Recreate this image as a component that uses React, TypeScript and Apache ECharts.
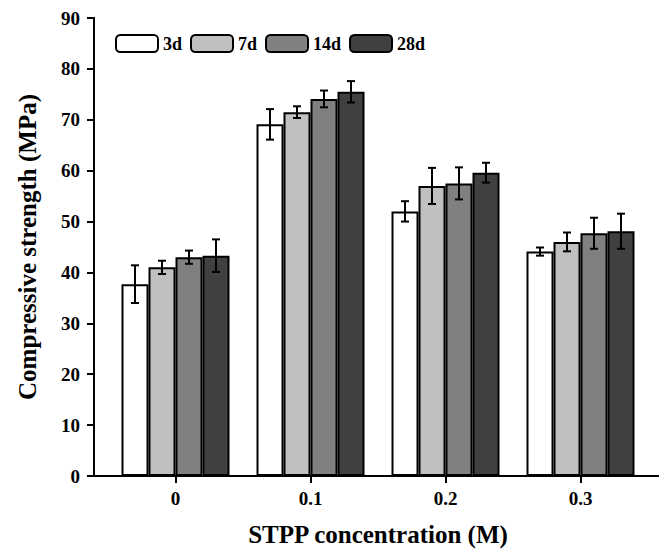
import React, { useEffect, useRef } from "react";
import * as echarts from "echarts";

const categories = ["0", "0.1", "0.2", "0.3"];
const seriesNames = ["3d", "7d", "14d", "28d"];
const seriesColors = ["#ffffff", "#c0c0c0", "#808080", "#404040"];
const values3d = [37.7, 69.1, 52.0, 44.1];
const values7d = [41.0, 71.5, 57.0, 46.0];
const values14d = [43.0, 74.1, 57.5, 47.7];
const values28d = [43.3, 75.5, 59.6, 48.1];
const err3d = [3.7, 3.0, 2.0, 0.8];
const err7d = [1.3, 1.15, 3.55, 1.85];
const err14d = [1.3, 1.65, 3.15, 3.05];
const err28d = [3.2, 2.1, 1.95, 3.45];
const yTicks = [0, 10, 20, 30, 40, 50, 60, 70, 80, 90];

const FONT = "'Liberation Serif', 'Times New Roman', serif";

export default function App() {
  const ref = useRef<HTMLDivElement>(null);
  useEffect(() => {
    document.body.style.margin = "0";
    if (!ref.current) return;
    const chart = echarts.init(ref.current, undefined, { renderer: "svg" });
    const allVals = [values3d, values7d, values14d, values28d];
    const allErr = [err3d, err7d, err14d, err28d];
    const errData: number[][] = [];
    allVals.forEach((vals, s) => {
      vals.forEach((v, c) => {
        errData.push([c, s, v - allErr[s][c], v + allErr[s][c]]);
      });
    });
    const top = 18;
    const bottom = 73;
    const axisLine = { show: true, lineStyle: { color: "#000", width: 2 } };
    const barSeries = allVals.map((vals, i) => ({
      type: "bar",
      name: seriesNames[i],
      xAxisIndex: 0,
      yAxisIndex: 0,
      data: vals,
      barGap: "0%",
      barCategoryGap: "20%",
      itemStyle: { color: seriesColors[i], borderColor: "#000", borderWidth: 2 },
    }));
    chart.setOption({
      animation: false,
      legend: {
        left: 110,
        top: 29,
        itemWidth: 42,
        itemHeight: 17,
        itemGap: 8,
        data: seriesNames,
        textStyle: { fontFamily: FONT, fontWeight: "bold", fontSize: 18, color: "#000" },
      },
      grid: [
        { left: 108, width: 540, top, bottom, outerBoundsMode: "none" },
        { left: 94, right: 7, top, bottom, outerBoundsMode: "none" },
      ],
      xAxis: [
        {
          type: "category",
          gridIndex: 0,
          data: categories,
          axisLine: { show: false },
          axisTick: { show: true, alignWithLabel: true, length: 7, lineStyle: { color: "#000", width: 2 } },
          axisLabel: { fontFamily: FONT, fontWeight: "bold", fontSize: 19, color: "#000", margin: 13 },
          name: "STPP concentration (M)",
          nameLocation: "middle",
          nameGap: 46,
          nameTextStyle: { fontFamily: FONT, fontWeight: "bold", fontSize: 25, color: "#000" },
        },
        {
          type: "value",
          gridIndex: 1,
          min: 0,
          max: 1,
          position: "bottom",
          axisLine,
          axisTick: { show: false },
          axisLabel: { show: false },
          splitLine: { show: false },
        },
        {
          type: "value",
          gridIndex: 1,
          min: 0,
          max: 1,
          position: "top",
          axisLine,
          axisTick: { show: false },
          axisLabel: { show: false },
          splitLine: { show: false },
        },
      ],
      yAxis: [
        {
          type: "value",
          gridIndex: 0,
          min: 0,
          max: 90,
          interval: 10,
          show: false,
        },
        {
          type: "value",
          gridIndex: 1,
          min: 0,
          max: 90,
          interval: 10,
          position: "left",
          axisLine,
          axisTick: { show: true, length: 7, lineStyle: { color: "#000", width: 2 } },
          axisLabel: {
            fontFamily: FONT,
            fontWeight: "bold",
            fontSize: 19,
            color: "#000",
            margin: 14,
            customValues: yTicks,
          },
          splitLine: { show: false },
          name: "Compressive strength (MPa)",
          nameLocation: "middle",
          nameGap: 54,
          nameTextStyle: { fontFamily: FONT, fontWeight: "bold", fontSize: 25, color: "#000" },
        },
        {
          type: "value",
          gridIndex: 1,
          min: 0,
          max: 90,
          position: "right",
          axisLine,
          axisTick: { show: false },
          axisLabel: { show: false },
          splitLine: { show: false },
        },
      ],
      series: [
        ...barSeries,
        {
          type: "custom",
          xAxisIndex: 0,
          yAxisIndex: 0,
          data: errData,
          z: 10,
          renderItem: (params: any, api: any) => {
            const c = api.value(0);
            const s = api.value(1);
            const lo = api.value(2);
            const hi = api.value(3);
            const band = api.size([1, 0])[0];
            const bw = (band * 0.8) / 4;
            const pLo = api.coord([c, lo]);
            const pHi = api.coord([c, hi]);
            const x = pLo[0] + (s - 1.5) * bw;
            const cap = 4;
            const style = { stroke: "#000", lineWidth: 2 };
            return {
              type: "group",
              children: [
                { type: "line", shape: { x1: x, y1: pLo[1], x2: x, y2: pHi[1] }, style },
                { type: "line", shape: { x1: x - cap, y1: pLo[1], x2: x + cap, y2: pLo[1] }, style },
                { type: "line", shape: { x1: x - cap, y1: pHi[1], x2: x + cap, y2: pHi[1] }, style },
              ],
            };
          },
        },
      ],
    });
    return () => chart.dispose();
  }, []);
  return <div ref={ref} style={{ width: 665, height: 549 }} />;
}
